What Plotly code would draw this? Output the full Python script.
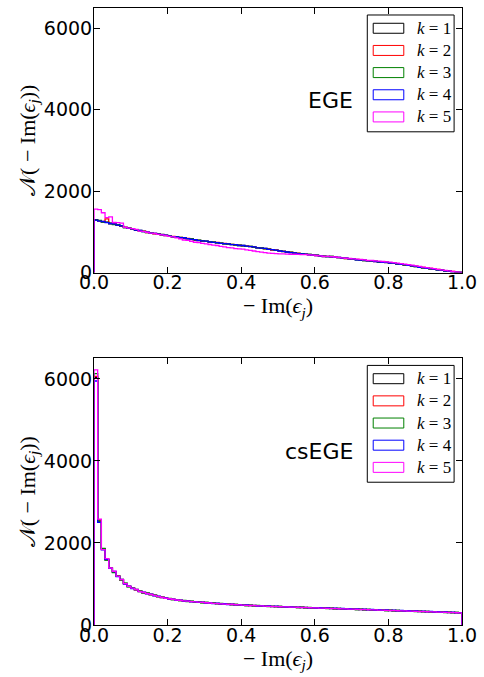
import numpy as np
import plotly.graph_objects as go

# ---------------- data ----------------
bin_edges = np.linspace(0.0, 1.0, 101)
series_labels = ["k = 1", "k = 2", "k = 3", "k = 4", "k = 5"]
series_colors = ["#000000", "#ff0000", "#008000", "#0000ff", "#ff00ff"]
panel_names = ["EGE", "csEGE"]
x_ticks = [0.0, 0.2, 0.4, 0.6, 0.8, 1.0]
y_ticks = [0, 2000, 4000, 6000]

ege_k1 = [1300,1275,1245,1240,1200,1195,1160,1150,1105,1085,
          1075,1040,1035,1005,995,970,965,940,935,910,
          905,880,875,855,855,830,825,800,795,775,
          775,750,750,730,725,705,705,685,685,665,
          665,645,645,620,615,595,595,570,565,545,
          540,515,510,490,485,465,465,445,445,425,
          425,405,405,390,395,375,375,355,355,335,
          335,315,315,295,295,275,280,260,260,245,
          245,225,220,200,195,175,170,145,140,115,
          115,90,90,65,65,40,40,20,15,3]
ege_k2 = [1280,1265,1255,1320,1215,1200,1165,1135,1115,1100,
          1060,1055,1025,1020,985,980,950,955,925,920,
          895,890,865,865,845,840,815,810,785,785,
          765,760,740,740,715,715,695,695,675,675,
          655,655,635,630,605,605,585,580,555,555,
          530,525,500,500,475,475,455,455,435,435,
          415,415,395,400,385,385,365,365,345,345,
          325,325,305,305,285,285,270,270,250,255,
          235,235,210,210,185,185,160,155,130,125,
          105,100,80,75,55,50,30,30,8,5]
ege_k3 = [1285,1280,1240,1235,1215,1180,1175,1145,1105,1095,
          1065,1055,1025,1015,985,980,955,950,925,915,
          910,880,870,865,845,835,825,805,790,785,
          765,760,745,730,725,705,700,695,675,675,
          655,645,645,625,605,605,585,575,565,545,
          540,520,500,500,475,470,465,445,445,425,
          425,405,400,390,395,375,365,365,345,345,
          325,320,315,295,295,275,275,260,255,250,
          240,230,210,210,185,180,165,145,140,115,
          115,90,90,65,60,45,30,25,10,4]
ege_k4 = [1290,1265,1255,1225,1205,1195,1165,1145,1110,1085,
          1075,1045,1035,1005,995,970,965,945,930,920,
          895,885,875,855,855,835,815,810,785,780,
          775,755,740,735,715,710,705,685,685,665,
          665,650,635,630,605,600,595,570,565,550,
          530,520,505,490,485,465,460,455,435,430,
          420,410,395,395,385,380,370,355,355,335,
          335,315,305,305,285,285,270,265,250,250,
          235,230,215,200,195,175,165,150,130,120,
          105,95,85,65,60,40,35,20,12,3]
ege_k5 = [1560,1545,1470,1350,1370,1230,1225,1215,1110,1090,
          1080,1060,1020,1010,990,970,960,940,925,910,
          890,875,850,830,800,790,770,745,735,715,
          705,690,675,665,645,630,615,605,590,580,
          575,560,545,530,515,500,490,480,470,465,
          460,460,455,450,450,445,440,440,435,430,
          420,412,400,398,390,382,372,362,352,346,
          338,332,322,312,302,296,288,280,272,262,
          255,245,232,220,207,195,182,165,150,135,
          122,108,95,80,66,52,40,26,15,5]

csege_k1 = [6030,2540,1860,1590,1400,1290,1195,1100,1015,935,
            905,855,825,785,775,740,725,690,680,650,
            645,620,615,595,595,575,578,560,562,545,
            548,530,533,520,521,506,512,496,500,488,
            490,476,483,468,471,460,466,452,455,447,
            451,438,445,432,437,426,433,421,426,414,
            420,407,414,404,408,396,403,390,395,386,
            390,377,384,372,379,366,373,360,367,354,
            361,348,354,343,348,336,343,330,337,324,
            330,318,325,312,319,306,313,301,307,296]
csege_k2 = [6060,2560,1845,1610,1385,1300,1185,1110,1005,945,
            895,865,815,795,765,750,715,700,670,660,
            635,630,608,605,585,585,568,570,553,555,
            538,540,525,527,512,516,501,506,492,496,
            482,486,473,478,465,470,457,462,449,455,
            443,448,436,442,430,436,424,430,418,424,
            412,418,406,412,400,406,394,400,388,394,
            382,388,376,382,370,376,364,370,358,364,
            352,358,346,352,340,346,334,340,328,334,
            322,328,316,322,310,316,304,310,298,303]
csege_k3 = [6130,2530,1870,1580,1395,1280,1200,1095,1020,930,
            910,850,830,780,780,735,728,688,684,648,
            648,618,618,592,598,572,580,558,566,542,
            550,528,536,516,524,504,514,494,502,484,
            494,474,486,466,476,458,468,450,460,442,
            454,436,446,430,440,424,434,418,428,412,
            422,406,416,400,410,394,404,388,398,382,
            392,376,386,370,380,364,374,358,368,352,
            362,346,356,340,350,334,344,328,338,322,
            332,316,326,310,320,304,314,298,308,294]
csege_k4 = [5950,2500,1830,1600,1380,1305,1180,1112,1000,950,
            890,868,812,800,760,752,712,702,666,662,
            632,632,604,608,582,588,565,572,550,558,
            535,542,522,530,510,518,498,508,490,498,
            480,488,470,480,462,472,454,464,446,458,
            440,450,434,444,428,438,422,432,416,426,
            410,420,404,414,398,408,392,402,386,396,
            380,390,374,384,368,378,362,372,356,366,
            350,360,344,354,338,348,332,342,326,336,
            320,330,314,324,308,318,302,312,296,304]
csege_k5 = [6220,2580,1840,1620,1390,1310,1190,1105,1010,940,
            900,860,818,792,768,742,722,694,676,652,
            640,624,610,600,588,580,570,564,556,550,
            542,536,528,522,516,510,506,500,496,490,
            486,480,476,472,468,464,460,456,452,448,
            446,442,440,436,434,430,428,424,422,418,
            416,412,410,406,404,400,398,394,392,388,
            386,382,380,376,374,370,368,364,362,358,
            356,352,350,346,344,340,338,334,332,328,
            326,322,320,316,314,310,308,304,302,298]

ege_series = [ege_k1, ege_k2, ege_k3, ege_k4, ege_k5]
csege_series = [csege_k1, csege_k2, csege_k3, csege_k4, csege_k5]

# ---------------- layout geometry (pixels) ----------------
W, H = 484, 677
ML, MR, MT, MB = 94, 17, 7, 52
PH = H - MT - MB
top_px = (7, 272)
bot_px = (358, 625)
top_dom = [(H - MB - top_px[1]) / PH, (H - MB - top_px[0]) / PH]
bot_dom = [(H - MB - bot_px[1]) / PH, (H - MB - bot_px[0]) / PH]
PW = W - ML - MR


def step_xy(vals):
    xs = [0.0] + [float(e) for e in bin_edges[:-1]] + [1.0, 1.0]
    ys = [0] + list(vals) + [vals[-1], 0]
    return xs, ys


fig = go.Figure()
for panel, (series, xa, ya) in enumerate([(ege_series, "x", "y"), (csege_series, "x2", "y2")]):
    for vals, lab, col in zip(series, series_labels, series_colors):
        xs, ys = step_xy(vals)
        fig.add_trace(go.Scatter(x=xs, y=ys, mode="lines", line=dict(color=col, width=1.3, shape="hv"),
                                 name=lab, showlegend=False, xaxis=xa, yaxis=ya,
                                 hoverinfo="skip"))

tickfont = dict(family="DejaVu Sans", size=19, color="black")
mathfont = dict(family="Liberation Serif", size=22, color="black")
xlabel = "\u2212 Im(<i>\u03f5</i><sub><i>j</i></sub>)"
ylabel = "\U0001D4A9( \u2212 Im(<i>\u03f5</i><sub><i>j</i></sub>))"

axis_common = dict(showline=True, linecolor="black", linewidth=1, mirror="allticks",
                   ticks="inside", ticklen=6, tickcolor="black", showgrid=False,
                   zeroline=False, tickfont=tickfont)
xaxis_extra = dict(ticklabelstandoff=-7)
yaxis_extra = dict(ticklabelstandoff=-3)

fig.update_layout(
    width=W, height=H,
    margin=dict(l=ML, r=MR, t=MT, b=MB),
    paper_bgcolor="white", plot_bgcolor="white",
    showlegend=False,
    xaxis=dict(domain=[0, 1], range=[0, 1], anchor="y", tickvals=x_ticks, tickformat=".1f",
               title=dict(text=xlabel, font=mathfont, standoff=0), **axis_common, **xaxis_extra),
    yaxis=dict(domain=top_dom, range=[0, 6500], anchor="x", tickvals=y_ticks,
               title=dict(text=ylabel, font=mathfont, standoff=2), **axis_common, **yaxis_extra),
    xaxis2=dict(domain=[0, 1], range=[0, 1], anchor="y2", tickvals=x_ticks, tickformat=".1f",
                title=dict(text=xlabel, font=mathfont, standoff=0), **axis_common, **xaxis_extra),
    yaxis2=dict(domain=bot_dom, range=[0, 6500], anchor="x2", tickvals=y_ticks,
                title=dict(text=ylabel, font=mathfont, standoff=2), **axis_common, **yaxis_extra),
)

# ---------------- manual legend + panel labels ----------------
# offsets below are measured from the panel's top edge (pixels)
shapes = []
annotations = []
for panel, (xr, yr, (ptop, pbot)) in enumerate([("x domain", "y domain", top_px),
                                                 ("x2 domain", "y2 domain", bot_px)]):
    ph = pbot - ptop
    fx = lambda px: (px - ML) / PW
    fy = lambda off, ph=ph: 1 - off / ph
    shapes.append(dict(type="rect", xref=xr, yref=yr, x0=fx(371), x1=fx(459),
                       y0=fy(124), y1=fy(7), line=dict(color="black", width=1),
                       fillcolor="white", layer="above"))
    for i, (lab, col) in enumerate(zip(series_labels, series_colors)):
        cy = 20.3 + 22.2 * i
        shapes.append(dict(type="rect", xref=xr, yref=yr, x0=fx(377), x1=fx(408),
                           y0=fy(cy + 5), y1=fy(cy - 5), line=dict(color=col, width=1),
                           fillcolor="rgba(0,0,0,0)", layer="above"))
        annotations.append(dict(xref=xr, yref=yr, x=fx(419), y=fy(cy), xanchor="left",
                                yanchor="middle", showarrow=False,
                                text="<i>k</i> = " + lab.split("= ")[1],
                                font=dict(family="Liberation Serif", size=17, color="black")))
    annotations.append(dict(xref=xr, yref=yr, x=fx(359), y=fy(93), xanchor="right",
                            yanchor="middle", showarrow=False, text=panel_names[panel],
                            font=dict(family="DejaVu Sans", size=22, color="black")))

fig.update_layout(shapes=shapes, annotations=annotations)
fig.write_html("out.html")
